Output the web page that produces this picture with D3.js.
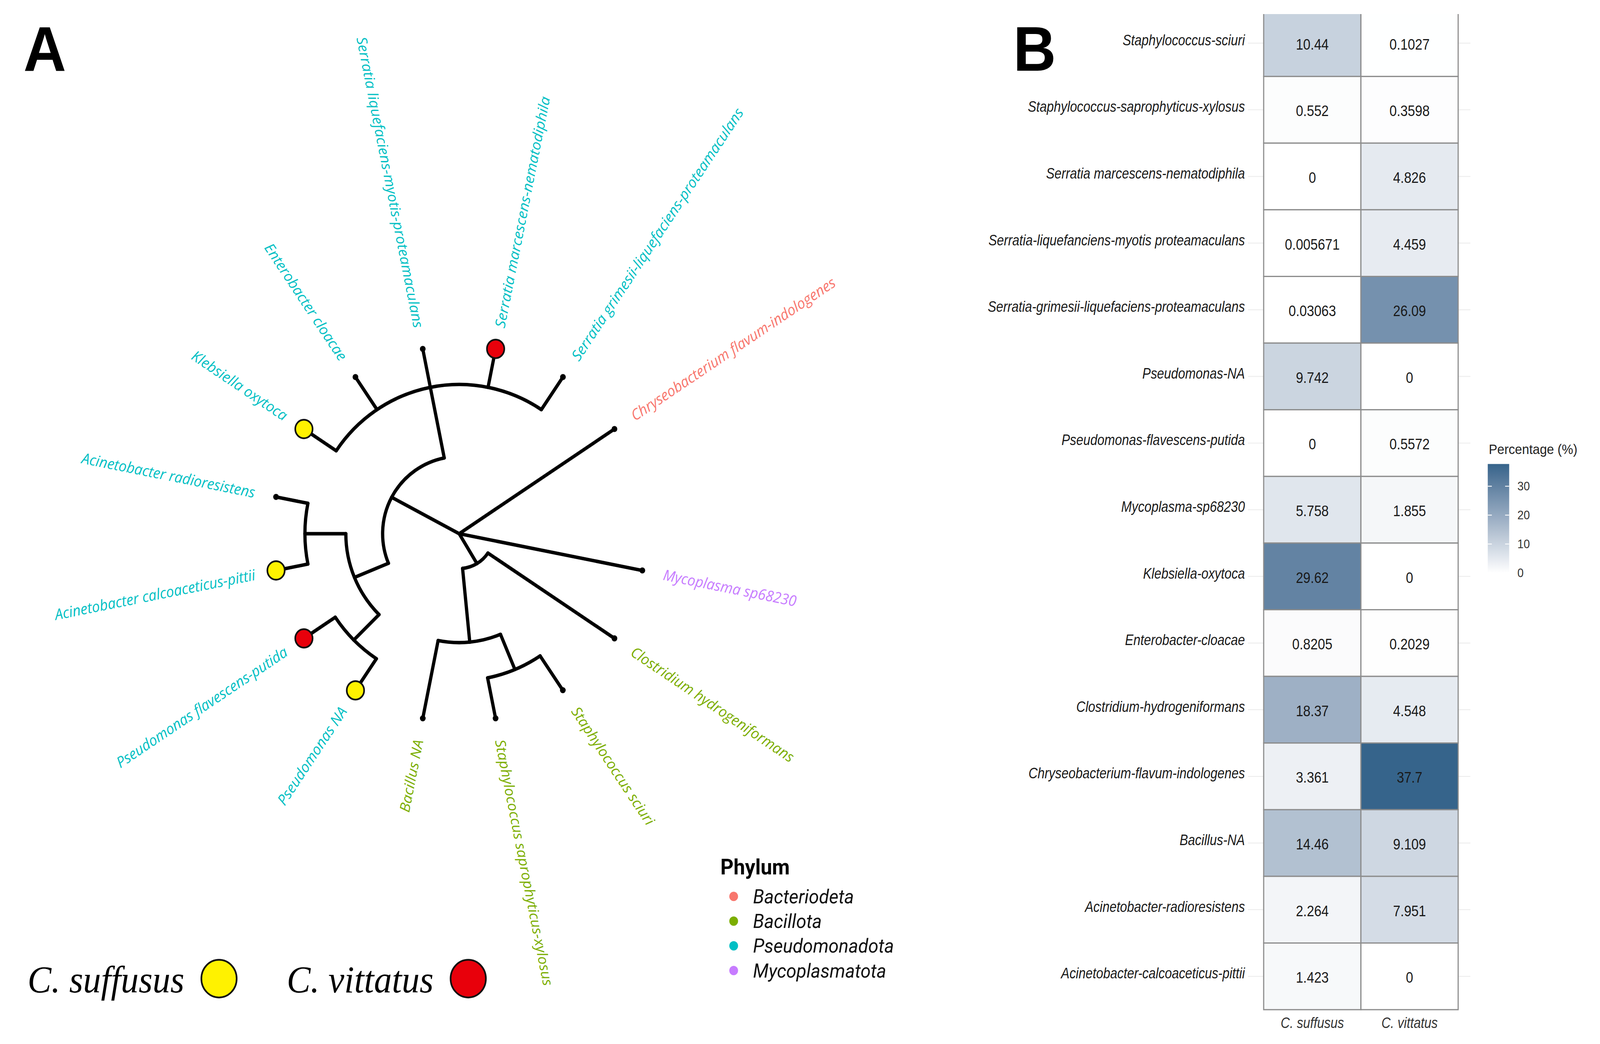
<!DOCTYPE html>
<meta charset='utf-8'>
<style>
	html, body { margin: 0; padding: 0; background: #fff; overflow: hidden; }
	svg { display: block; width: 100vw; height: 100vh; }
</style>
<body>
<div id='container'></div>
<script src='https://d3js.org/d3.v7.min.js'></script>
<script>
	// ---- panel A data: tree topology (cladogram, branch lengths scaled so tips = 1) ----
	const newick = '(Myco:1,(Clos:0.815,((Sciuri:0.219,Sapro:0.219):0.202,Bacillus:0.421):0.393):0.185,' +
		'(((PNA:0.202,Pflav:0.202):0.191,(Acalco:0.174,Aradio:0.174):0.219):0.197,' +
		'(Kleb:0.208,Entero:0.208,Sliq:0.208,Smarc:0.208,Sgrim:0.208):0.382):0.41,Chryseo:1);';

	const tipIds = ['Myco', 'Clos', 'Sciuri', 'Sapro', 'Bacillus', 'PNA', 'Pflav', 'Acalco',
		'Aradio', 'Kleb', 'Entero', 'Sliq', 'Smarc', 'Sgrim', 'Chryseo'];
	const tipNames = ['Mycoplasma sp68230', 'Clostridium hydrogeniformans', 'Staphylococcus sciuri',
		'Staphylococcus saprophyticus-xylosus', 'Bacillus NA', 'Pseudomonas NA', 'Pseudomonas flavescens-putida',
		'Acinetobacter calcoaceticus-pittii', 'Acinetobacter radioresistens', 'Klebsiella oxytoca',
		'Enterobacter cloacae', 'Serratia liquefaciens-myotis-proteamaculans', 'Serratia marcescens-nematodiphila',
		'Serratia grimesii-liquefaciens-proteamaculans', 'Chryseobacterium flavum-indologenes'];
	const tipPhyla = ['Mycoplasmatota', 'Bacillota', 'Bacillota', 'Bacillota', 'Bacillota', 'Pseudomonadota',
		'Pseudomonadota', 'Pseudomonadota', 'Pseudomonadota', 'Pseudomonadota', 'Pseudomonadota',
		'Pseudomonadota', 'Pseudomonadota', 'Pseudomonadota', 'Bacteriodeta'];

	const phyla = ['Bacteriodeta', 'Bacillota', 'Pseudomonadota', 'Mycoplasmatota'];
	const phylaColors = ['#F8766D', '#7CAE00', '#00BFC4', '#C77CFF'];

	const hosts = ['C. suffusus', 'C. vittatus'];
	const hostColors = ['#FFF200', '#E8000B'];
	const suffususTips = ['Kleb', 'Acalco', 'PNA'];
	const vittatusTips = ['Smarc', 'Pflav'];

	// ---- panel B data: relative abundance (%) ----
	const taxa = ['Staphylococcus-sciuri', 'Staphylococcus-saprophyticus-xylosus', 'Serratia marcescens-nematodiphila',
		'Serratia-liquefanciens-myotis proteamaculans', 'Serratia-grimesii-liquefaciens-proteamaculans',
		'Pseudomonas-NA', 'Pseudomonas-flavescens-putida', 'Mycoplasma-sp68230', 'Klebsiella-oxytoca',
		'Enterobacter-cloacae', 'Clostridium-hydrogeniformans', 'Chryseobacterium-flavum-indologenes',
		'Bacillus-NA', 'Acinetobacter-radioresistens', 'Acinetobacter-calcoaceticus-pittii'];
	const suffusus = [10.44, 0.552, 0, 0.005671, 0.03063, 9.742, 0, 5.758, 29.62, 0.8205, 18.37, 3.361, 14.46, 2.264, 1.423];
	const vittatus = [0.1027, 0.3598, 4.826, 4.459, 26.09, 0, 0.5572, 1.855, 0, 0.2029, 4.548, 37.7, 9.109, 7.951, 0];
	const labelsSuffusus = ['10.44', '0.552', '0', '0.005671', '0.03063', '9.742', '0', '5.758', '29.62', '0.8205', '18.37', '3.361', '14.46', '2.264', '1.423'];
	const labelsVittatus = ['0.1027', '0.3598', '4.826', '4.459', '26.09', '0', '0.5572', '1.855', '0', '0.2029', '4.548', '37.7', '9.109', '7.951', '0'];
	const legendTicks = [0, 10, 20, 30];

	// ---- tiny newick parser ----
	function parseNewick( s ) {
		let i = 0;
		function node() {
			const n = { children: null, name: '', length: 0 };
			if ( s[i] === '(' ) {
				n.children = [];
				i++;
				n.children.push( node() );
				while ( s[i] === ',' ) { i++; n.children.push( node() ); }
				i++; // ')'
			}
			let name = '';
			while ( i < s.length && !':,);'.includes( s[i] ) ) name += s[i++];
			n.name = name;
			if ( s[i] === ':' ) {
				i++;
				let num = '';
				while ( i < s.length && !',);'.includes( s[i] ) ) num += s[i++];
				n.length = +num;
			}
			return n;
		}
		return node();
	}

	const W = 4371, H = 2672, VW = 1568, VH = VW * H / W;

	const svg = d3.select( '#container' )
		.append( 'svg' )
		.attr( 'viewBox', `0 0 ${VW} ${VH}` )
		.attr( 'preserveAspectRatio', 'none' );

	const defs = svg.append( 'defs' );

	// ================= Panel A =================
	svg.append( 'text' )
		.attr( 'x', 23 ).attr( 'y', 65 )
		.style( 'font', 'bold 58px "Liberation Sans", Arial, sans-serif' )
		.text( 'A' );

	const cx = 450, cy = 490;
	const rx = d3.scaleLinear().domain( [0, 1] ).range( [0, 183] );
	const ry = d3.scaleLinear().domain( [0, 1] ).range( [0, 173] );
	const angle = d3.scaleLinear().domain( [0, tipIds.length + 1] ).range( [0, 360] );
	const phylumColor = d3.scaleOrdinal().domain( phyla ).range( phylaColors );
	const hostColor = d3.scaleOrdinal().domain( hosts ).range( hostColors );

	const root = d3.hierarchy( parseNewick( newick ), d => d.children );
	root.eachBefore( d => { d.r = d.parent ? d.parent.r + d.data.length : 0; } );
	root.leaves().forEach( ( d, i ) => { d.a = angle( i + 0.5 ); } );
	root.eachAfter( d => { if ( d.children ) d.a = d3.mean( d.children, c => c.a ); } );

	const rad = a => a * Math.PI / 180;
	const pt = ( r, a ) => [cx + rx( r ) * Math.cos( rad( a ) ), cy + ry( r ) * Math.sin( rad( a ) )];

	const tree = svg.append( 'g' )
		.attr( 'fill', 'none' )
		.attr( 'stroke', '#000' )
		.attr( 'stroke-width', 3.2 )
		.attr( 'stroke-linecap', 'round' )
		.attr( 'stroke-linejoin', 'round' );

	// radial segments
	tree.selectAll( 'line' )
		.data( root.descendants().filter( d => d.parent ) )
		.join( 'line' )
			.attr( 'x1', d => pt( d.parent.r, d.a )[0] )
			.attr( 'y1', d => pt( d.parent.r, d.a )[1] )
			.attr( 'x2', d => pt( d.r, d.a )[0] )
			.attr( 'y2', d => pt( d.r, d.a )[1] );

	// arcs joining siblings
	tree.selectAll( 'path' )
		.data( root.descendants().filter( d => d.children && d.parent ) )
		.join( 'path' )
			.attr( 'd', d => {
				const a0 = d3.min( d.children, c => c.a ), a1 = d3.max( d.children, c => c.a );
				const p0 = pt( d.r, a0 ), p1 = pt( d.r, a1 );
				return `M${p0}A${rx( d.r )},${ry( d.r )} 0 ${a1 - a0 > 180 ? 1 : 0} 1 ${p1}`;
			} );

	const leaves = root.leaves();
	const hostOf = id => suffususTips.includes( id ) ? hosts[0] : vittatusTips.includes( id ) ? hosts[1] : null;

	svg.append( 'g' ).selectAll( 'circle' )
		.data( leaves.filter( d => !hostOf( d.data.name ) ) )
		.join( 'circle' )
			.attr( 'cx', d => pt( d.r, d.a )[0] )
			.attr( 'cy', d => pt( d.r, d.a )[1] )
			.attr( 'r', 2.8 )
			.attr( 'fill', '#000' );

	svg.append( 'g' ).selectAll( 'circle' )
		.data( leaves.filter( d => hostOf( d.data.name ) ) )
		.join( 'circle' )
			.attr( 'cx', d => pt( d.r, d.a )[0] )
			.attr( 'cy', d => pt( d.r, d.a )[1] )
			.attr( 'r', 8.5 )
			.attr( 'fill', d => hostColor( hostOf( d.data.name ) ) )
			.attr( 'stroke', '#111' )
			.attr( 'stroke-width', 1.6 );

	// tip labels
	const labelR = 1.115;
	svg.append( 'g' ).selectAll( 'text' )
		.data( leaves )
		.join( 'text' )
			.attr( 'transform', d => {
				const p = pt( labelR, d.a );
				const vis = Math.atan2( ry( 1 ) * Math.sin( rad( d.a ) ), rx( 1 ) * Math.cos( rad( d.a ) ) ) * 180 / Math.PI;
				const flip = Math.cos( rad( d.a ) ) < 0;
				return `translate(${p}) rotate(${flip ? vis + 180 : vis})`;
			} )
			.attr( 'text-anchor', d => Math.cos( rad( d.a ) ) < 0 ? 'end' : 'start' )
			.attr( 'dy', '0.35em' )
			.attr( 'fill', d => phylumColor( tipPhyla[tipIds.indexOf( d.data.name )] ) )
			.style( 'font', 'italic 13.8px "Open Sans", sans-serif' )
			.text( d => tipNames[tipIds.indexOf( d.data.name )] );

	// phylum legend
	const leg = svg.append( 'g' ).attr( 'transform', 'translate(706, 0)' );
	leg.append( 'text' )
		.attr( 'x', 0 ).attr( 'y', 803 )
		.style( 'font', 'bold 20px Roboto, sans-serif' )
		.text( 'Phylum' );
	const legY = d3.scaleLinear().domain( [0, 1] ).range( [823, 845.7] );
	leg.selectAll( 'circle' )
		.data( phyla )
		.join( 'circle' )
			.attr( 'cx', 13 )
			.attr( 'cy', ( d, i ) => legY( i ) )
			.attr( 'r', 4.3 )
			.attr( 'fill', d => phylumColor( d ) );
	leg.selectAll( 'text.item' )
		.data( phyla )
		.join( 'text' )
			.attr( 'class', 'item' )
			.attr( 'x', 32 )
			.attr( 'y', ( d, i ) => legY( i ) )
			.attr( 'dy', '0.35em' )
			.attr( 'fill', '#111' )
			.style( 'font', 'italic 18px Roboto, sans-serif' )
			.text( d => d );

	// host legend
	const hostX = d3.scaleOrdinal().domain( hosts ).range( [27, 281] );
	const hostG = svg.append( 'g' ).selectAll( 'g' )
		.data( hosts )
		.join( 'g' )
			.attr( 'transform', d => `translate(${hostX( d )}, 911)` );
	hostG.append( 'text' )
		.style( 'font', 'italic 35px "Liberation Serif", "Times New Roman", serif' )
		.attr( 'fill', '#000' )
		.text( d => d );
	hostG.each( function ( d ) {
		const g = d3.select( this );
		const w = g.select( 'text' ).node().getComputedTextLength();
		g.append( 'circle' )
			.attr( 'cx', w + 34 )
			.attr( 'cy', -12.5 )
			.attr( 'r', 17.3 )
			.attr( 'fill', hostColor( d ) )
			.attr( 'stroke', '#111' )
			.attr( 'stroke-width', 1.6 );
	} );

	// ================= Panel B =================
	svg.append( 'text' )
		.attr( 'x', 993 ).attr( 'y', 65 )
		.style( 'font', 'bold 58px "Liberation Sans", Arial, sans-serif' )
		.text( 'B' );

	const x = d3.scaleBand().domain( hosts ).range( [1238.4, 1429] );
	const y = d3.scaleBand().domain( taxa ).range( [9, 927] );
	const color = d3.scaleLinear().domain( [0, 37.7] ).range( ['#ffffff', '#36648B'] ).interpolate( d3.interpolateLab );

	// the figure is cropped just above the first row
	defs.append( 'clipPath' ).attr( 'id', 'hmclip' )
		.append( 'rect' )
			.attr( 'x', 1200 ).attr( 'y', 12.9 )
			.attr( 'width', 300 ).attr( 'height', 930 );

	const cells = [];
	taxa.forEach( ( t, i ) => {
		cells.push( { taxon: t, host: hosts[0], value: suffusus[i], label: labelsSuffusus[i] } );
		cells.push( { taxon: t, host: hosts[1], value: vittatus[i], label: labelsVittatus[i] } );
	} );

	const hm = svg.append( 'g' );
	hm.selectAll( 'line.grid' )
		.data( taxa )
		.join( 'line' )
			.attr( 'class', 'grid' )
			.attr( 'x1', 1223 ).attr( 'x2', 1441 )
			.attr( 'y1', d => y( d ) + y.bandwidth() / 2 )
			.attr( 'y2', d => y( d ) + y.bandwidth() / 2 )
			.attr( 'stroke', '#ececec' )
			.attr( 'stroke-width', 0.8 );

	hm.append( 'g' )
		.attr( 'clip-path', 'url(#hmclip)' )
		.selectAll( 'rect' )
		.data( cells )
		.join( 'rect' )
			.attr( 'x', d => x( d.host ) )
			.attr( 'y', d => y( d.taxon ) )
			.attr( 'width', x.bandwidth() )
			.attr( 'height', y.bandwidth() )
			.attr( 'fill', d => color( d.value ) )
			.attr( 'stroke', '#8c8c8c' )
			.attr( 'stroke-width', 1.1 );

	hm.selectAll( 'text.val' )
		.data( cells )
		.join( 'text' )
			.attr( 'class', 'val' )
			.attr( 'transform', d => `translate(${x( d.host ) + x.bandwidth() / 2}, ${y( d.taxon ) + y.bandwidth() / 2 + 1}) scale(0.92,1)` )
			.attr( 'text-anchor', 'middle' )
			.attr( 'dy', '0.35em' )
			.attr( 'fill', '#1a1a1a' )
			.style( 'font', '14px "Liberation Sans", Arial, sans-serif' )
			.text( d => d.label );

	hm.selectAll( 'text.row' )
		.data( taxa )
		.join( 'text' )
			.attr( 'class', 'row' )
			.attr( 'transform', d => `translate(1220, ${y( d ) + y.bandwidth() / 2 - 3}) scale(0.885,1)` )
			.attr( 'text-anchor', 'end' )
			.attr( 'dy', '0.35em' )
			.attr( 'fill', '#1a1a1a' )
			.style( 'font', 'italic 14px "Liberation Sans", Arial, sans-serif' )
			.text( d => d );

	hm.selectAll( 'text.col' )
		.data( hosts )
		.join( 'text' )
			.attr( 'class', 'col' )
			.attr( 'transform', d => `translate(${x( d ) + x.bandwidth() / 2}, 939) scale(0.885,1)` )
			.attr( 'text-anchor', 'middle' )
			.attr( 'dy', '0.35em' )
			.attr( 'fill', '#333' )
			.style( 'font', 'italic 14px "Liberation Sans", Arial, sans-serif' )
			.text( d => d );

	// colour bar legend
	const cb = d3.scaleLinear().domain( [0, 37.7] ).range( [526, 426] );
	const grad = defs.append( 'linearGradient' )
		.attr( 'id', 'cbar' )
		.attr( 'x1', 0 ).attr( 'x2', 0 ).attr( 'y1', 1 ).attr( 'y2', 0 );
	grad.selectAll( 'stop' )
		.data( d3.range( 0, 1.0001, 0.1 ) )
		.join( 'stop' )
			.attr( 'offset', d => d )
			.attr( 'stop-color', d => color( d * 37.7 ) );

	svg.append( 'text' )
		.attr( 'x', 1459 ).attr( 'y', 417 )
		.attr( 'fill', '#222' )
		.style( 'font', '12.5px "Liberation Sans", Arial, sans-serif' )
		.text( 'Percentage (%)' );

	svg.append( 'rect' )
		.attr( 'x', 1458 ).attr( 'width', 21 )
		.attr( 'y', cb( 37.7 ) ).attr( 'height', cb( 0 ) - cb( 37.7 ) )
		.attr( 'fill', 'url(#cbar)' );

	const cbt = svg.append( 'g' ).selectAll( 'g' )
		.data( legendTicks )
		.join( 'g' )
			.attr( 'transform', d => `translate(0, ${cb( d )})` );
	cbt.append( 'line' ).attr( 'x1', 1458 ).attr( 'x2', 1462 ).attr( 'stroke', '#fff' ).attr( 'stroke-width', 0.8 );
	cbt.append( 'line' ).attr( 'x1', 1475 ).attr( 'x2', 1479 ).attr( 'stroke', '#fff' ).attr( 'stroke-width', 0.8 );
	cbt.append( 'text' )
		.attr( 'x', 1487 )
		.attr( 'dy', '0.35em' )
		.attr( 'fill', '#333' )
		.style( 'font', '11px "Liberation Sans", Arial, sans-serif' )
		.text( d => d );
</script>
</body>
